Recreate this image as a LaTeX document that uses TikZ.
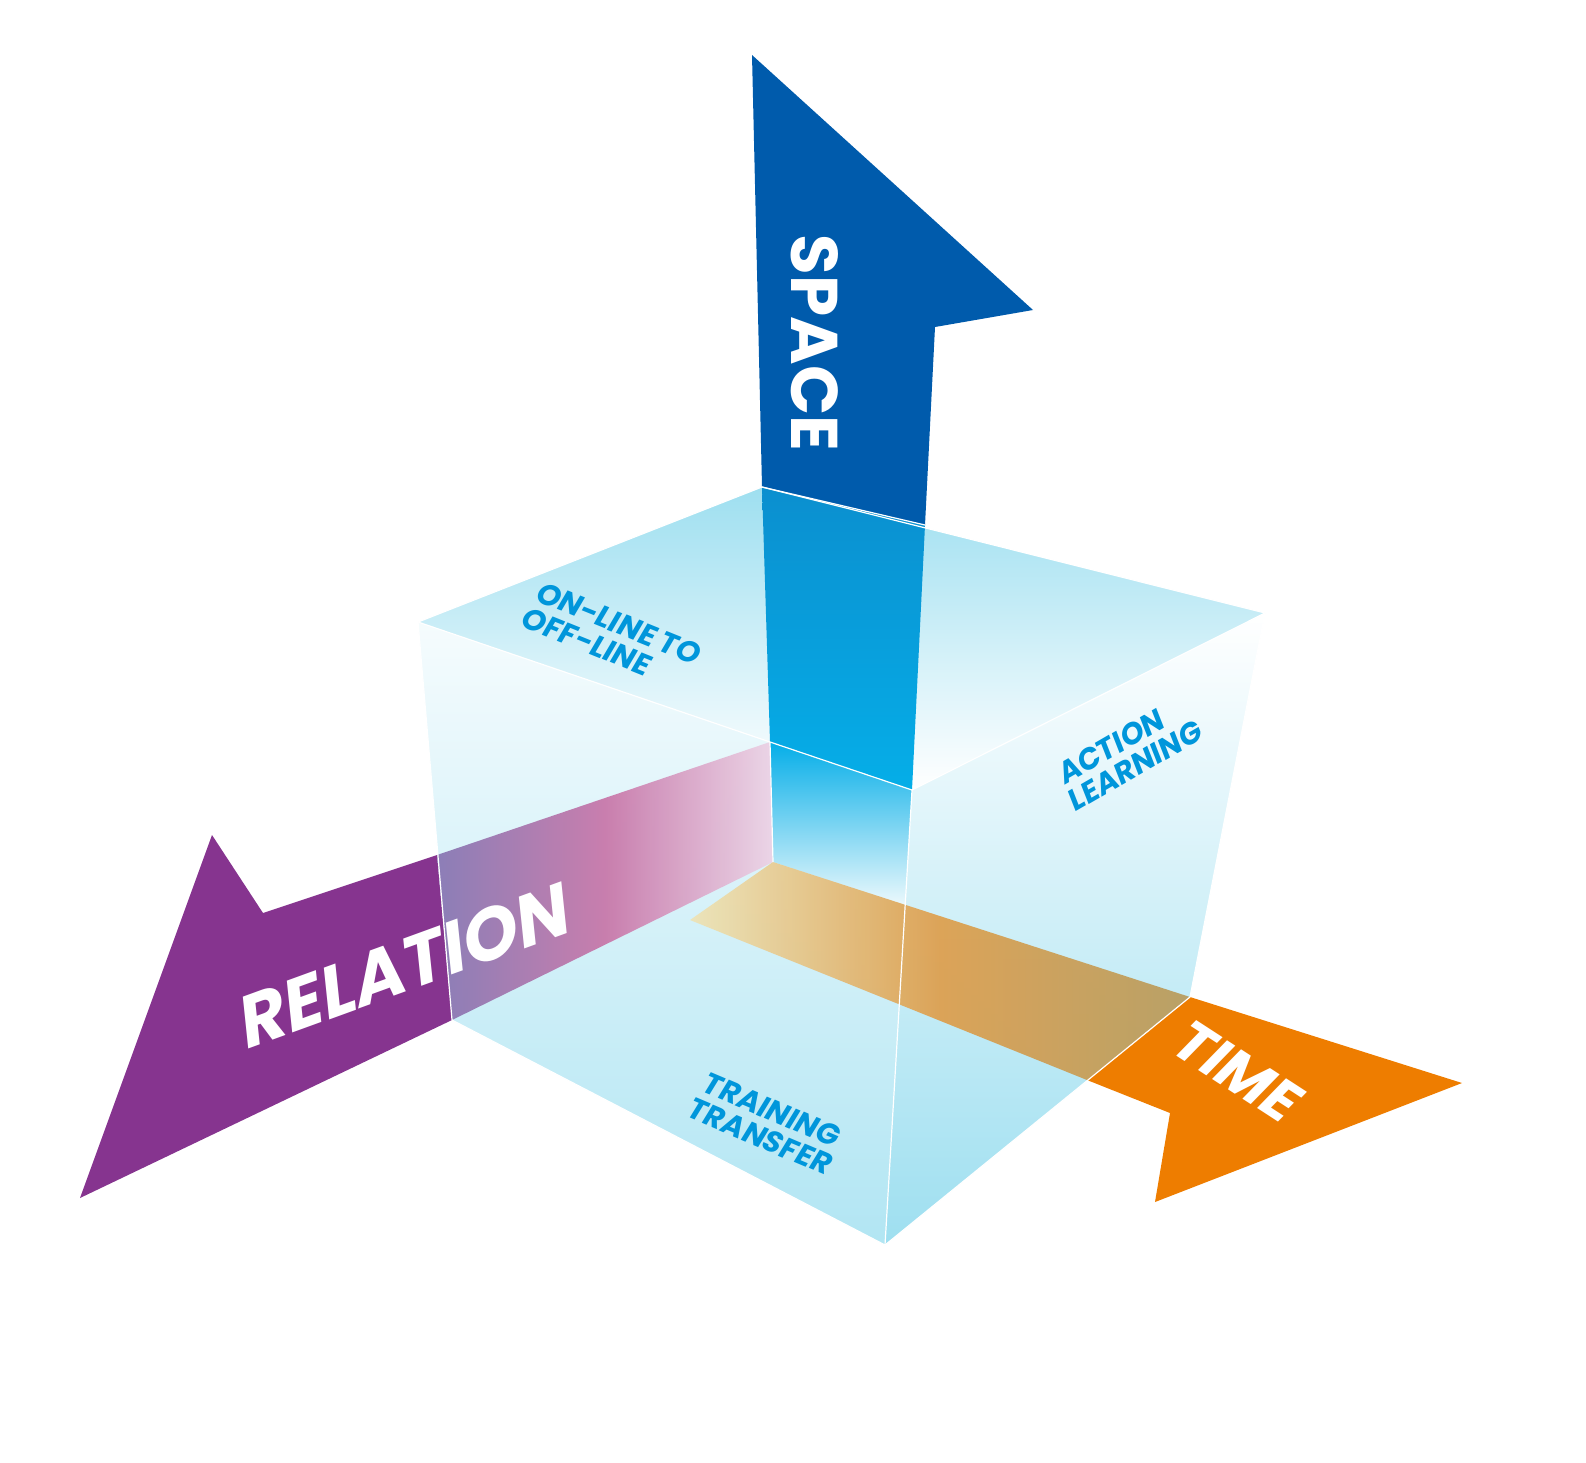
\documentclass[tikz,border=0pt]{standalone}
\usepackage{fontspec}
\setmainfont{Poppins}
\begin{document}
\begin{tikzpicture}[x=1pt,y=-1pt,
  edge/.style={draw=white,line width=1.2pt},
  lbl/.style={text=lblue,font=\bfseries\fontsize{30}{29}\selectfont,align=left,inner sep=0pt},
  big/.style={text=white,font=\bfseries\fontsize{66}{66}\selectfont,inner sep=0pt}]
\definecolor{spaceblue}{HTML}{005BAC}
\definecolor{relpurple}{HTML}{86348F}
\definecolor{timeorange}{HTML}{EE7D00}
\definecolor{lblue}{HTML}{0096DB}
\definecolor{cyanface}{HTML}{9EDFF0}
\definecolor{relA}{HTML}{8878B4}
\definecolor{relB}{HTML}{C878AA}
\definecolor{relC}{HTML}{ECD4E6}
\definecolor{spA}{HTML}{0B8FCF}
\definecolor{spB}{HTML}{05AEE8}
\definecolor{tmA}{HTML}{EDE4B8}
\definecolor{tmB}{HTML}{DDA050}
\definecolor{tmC}{HTML}{B89E60}
\useasboundingbox (0,0) rectangle (1586,1462);
% coordinates
\coordinate (TL) at (418,622); \coordinate (TB) at (762,487);
\coordinate (TR) at (1265,613); \coordinate (TF) at (912,790);
\coordinate (BL) at (452,1020); \coordinate (BF) at (885,1245);
\coordinate (BR) at (1190,997); \coordinate (C1) at (770,742);
\coordinate (C2) at (773,862);
% cube faces
\shade[shading=axis,shading angle=20,top color=white!90!cyanface,bottom color=cyanface!80] (TL)--(TF)--(BF)--(BL)--cycle;
\shade[shading=axis,shading angle=-30,top color=white,bottom color=cyanface] (TF)--(TR)--(BR)--(BF)--cycle;
\shade[shading=axis,shading angle=30,top color=cyanface,bottom color=white] (TL)--(TB)--(TR)--(TF)--cycle;
% relation arrow
\fill[relpurple] (437,855)--(263,913)--(212,835)--(80,1198)--(BL)--cycle;
\shade[left color=relA,right color=relC,middle color=relB,opacity=.95] (C1)--(C2)--(BL)--(437,855)--cycle;
% space arrow
\fill[spaceblue] (TB)--(752,55)--(1033,310)--(935,327)--(925,525)--cycle;
\shade[top color=spA,bottom color=spB] (TB)--(925,525)--(912,790)--(C1)--cycle;
\shade[top color=spB,bottom color=white!80!cyanface] (C1)--(912,790)--(905,905)--(C2)--cycle;
% time arrow
\shade[left color=tmA,right color=tmC,middle color=tmB,opacity=.95] (C2)--(BR)--(1087,1080)--(690,920)--cycle;
\fill[timeorange] (BR)--(1462,1083)--(1155,1202)--(1170,1113)--(1087,1080)--cycle;
% edges
\draw[edge] (TL)--(TB)--(TR)--(BR)--(BF)--(BL)--cycle;
\draw[edge] (TL)--(C1)--(TF)--(TR); \draw[edge] (TF)--(BF);
\draw[edge] (TB)--(925,525); \draw[edge] (C1)--(C2);
% texts
\node[big,rotate=-90] (space) at (815,343) {SPACE};
\node[big,rotate=20,xslant=.25,font=\bfseries\fontsize{72}{72}\selectfont] (rel) at (405,965) {RELATION};
\node[big,rotate=-33,xslant=.2,font=\bfseries\fontsize{58}{58}\selectfont] (time) at (1238,1072) {TIME};
\node[lbl,rotate=-22,xslant=.15] (onl) at (612,636) {ON-LINE TO\\OFF-LINE};
\node[lbl,rotate=30,xslant=.15] (act) at (1130,752) {ACTION\\LEARNING};
\node[lbl,rotate=-23,xslant=.15] (trn) at (768,1124) {TRAINING\\TRANSFER};
\end{tikzpicture}
\end{document}
